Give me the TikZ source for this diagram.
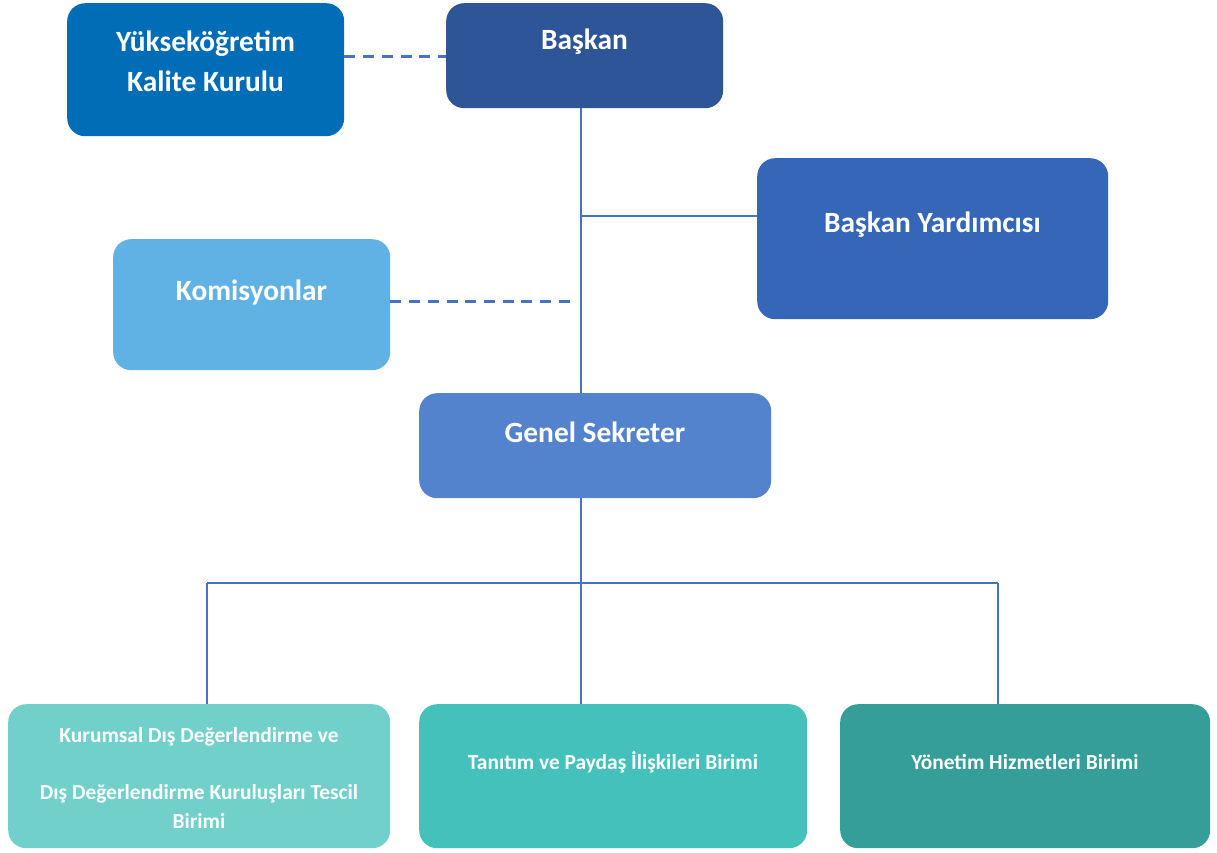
\documentclass[tikz,border=0pt]{standalone}
\usepackage{fontspec}
\setmainfont{Carlito}
\definecolor{cYok}{HTML}{006DB6}
\definecolor{cBaskan}{HTML}{2E5597}
\definecolor{cYard}{HTML}{3566B8}
\definecolor{cKom}{HTML}{5FB2E3}
\definecolor{cGenel}{HTML}{5383CD}
\definecolor{cB1}{HTML}{72D0CB}
\definecolor{cB2}{HTML}{45C1BB}
\definecolor{cB3}{HTML}{369E98}
\definecolor{cLine}{HTML}{4472C4}
\begin{document}
\begin{tikzpicture}[x=1bp,y=-1bp,
  box/.style={rounded corners=18bp, draw=none, inner sep=0pt, anchor=north west},
  bigtxt/.style={text=white, font=\fontsize{29.5}{40}\selectfont\bfseries, align=center, inner sep=0pt},
  smalltxt/.style={text=white, font=\fontsize{21.5}{28.5}\selectfont\bfseries, align=center, inner sep=0pt},
  conn/.style={draw=cLine, line width=1.3bp},
  connb/.style={draw=cLine, line width=2bp},
  dashconn/.style={draw=cLine, line width=2.8bp, dash pattern=on 11bp off 7.7bp}]
\useasboundingbox (0,0) rectangle (1217,853);
% boxes
\node[box, fill=cYok, minimum width=277bp, minimum height=133bp] (yok) at (67,3) {};
\node[box, fill=cBaskan, minimum width=277bp, minimum height=105bp] (baskan) at (446,3) {};
\node[box, fill=cYard, minimum width=351bp, minimum height=161bp] (yard) at (757,158) {};
\node[box, fill=cKom, minimum width=277bp, minimum height=131bp] (kom) at (113,239) {};
\node[box, fill=cGenel, minimum width=352bp, minimum height=105bp] (genel) at (419,393) {};
\node[box, fill=cB1, minimum width=382bp, minimum height=144bp] (b1) at (8,704) {};
\node[box, fill=cB2, minimum width=388bp, minimum height=144bp] (b2) at (419,704) {};
\node[box, fill=cB3, minimum width=370bp, minimum height=144bp] (b3) at (840,704) {};
% texts
\node[bigtxt] (yokT) at (205.5,61) {Yükseköğretim\\Kalite Kurulu};
\node[bigtxt] (baskanT) at (584.5,42) {Başkan};
\node[bigtxt] (yardT) at (932.5,225) {Başkan Yardımcısı};
\node[bigtxt] (komT) at (251.5,292) {Komisyonlar};
\node[bigtxt] (genelT) at (595,432) {Genel Sekreter};
\node[smalltxt] (b1T) at (199,778) {Kurumsal Dış Değerlendirme ve\\[28.5bp]Dış Değerlendirme Kuruluşları Tescil\\Birimi};
\node[smalltxt] (b2T) at (613,762) {Tanıtım ve Paydaş İlişkileri Birimi};
\node[smalltxt] (b3T) at (1025,762) {Yönetim Hizmetleri Birimi};
% coordinates
\coordinate (trunk) at (581,0);
\coordinate (yb) at (581,216);
\coordinate (dy) at (0,56.5);
\coordinate (kd) at (571,301.5);
\coordinate (bm) at (581,583);
\coordinate (bl) at (207,583);
\coordinate (br) at (998,583);
% connectors
\draw[conn] (baskan.south -| trunk) -- (genel.north -| trunk);
\draw[conn] (yb) -- (yb -| yard.west);
\draw[dashconn] (yok.east |- dy) -- (baskan.west |- dy);
\draw[dashconn] (kom.east |- kd) -- (kd);
\draw[connb] (genel.south -| trunk) -- (bm);
\draw[connb] (bl) -- (br);
\draw[connb] (bl) -- (b1.north -| bl);
\draw[connb] (bm) -- (b2.north -| bm);
\draw[connb] (br) -- (b3.north -| br);
\end{tikzpicture}
\end{document}
